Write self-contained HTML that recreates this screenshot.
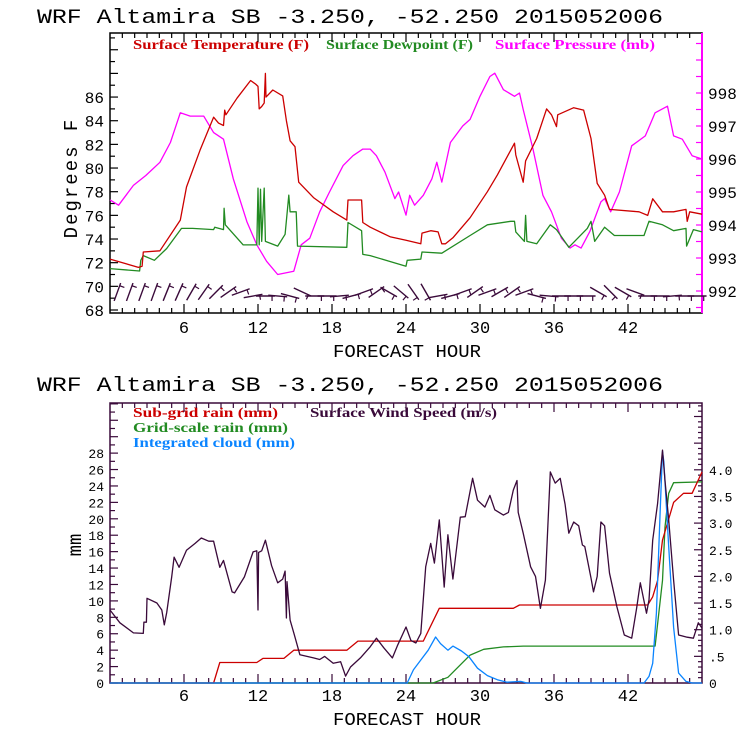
<!DOCTYPE html>
<html><head><meta charset="utf-8">
<style>
html,body{margin:0;padding:0;background:#fff;}
svg{display:block;}
.mono{font-family:"Liberation Mono","DejaVu Sans Mono",monospace;}
.serif{font-family:"Liberation Serif",serif;font-weight:bold;}
</style></head>
<body>
<svg id="chart" width="740" height="740" viewBox="0 0 740 740" xmlns="http://www.w3.org/2000/svg">
<rect width="740" height="740" fill="#fff"/>
<text class="mono" x="37" y="23" font-size="20" textLength="626" lengthAdjust="spacingAndGlyphs">WRF  Altamira  SB  -3.250, -52.250  2015052006</text>
<text class="mono" x="37" y="391" font-size="20" textLength="626" lengthAdjust="spacingAndGlyphs">WRF  Altamira  SB  -3.250, -52.250  2015052006</text>
<text class="serif" x="133" y="49" font-size="14" fill="#cc0000" textLength="176" lengthAdjust="spacingAndGlyphs">Surface Temperature (F)</text>
<text class="serif" x="326" y="49" font-size="14" fill="#228b22" textLength="147" lengthAdjust="spacingAndGlyphs">Surface Dewpoint (F)</text>
<text class="serif" x="495" y="49" font-size="14" fill="#ff00ff" textLength="160" lengthAdjust="spacingAndGlyphs">Surface Pressure (mb)</text>
<text class="serif" x="133" y="417" font-size="14" fill="#cc0000" textLength="145" lengthAdjust="spacingAndGlyphs">Sub-grid rain (mm)</text>
<text class="serif" x="310" y="417" font-size="14" fill="#3a0a3a" textLength="187" lengthAdjust="spacingAndGlyphs">Surface Wind Speed (m/s)</text>
<text class="serif" x="133" y="432" font-size="14" fill="#228b22" textLength="155" lengthAdjust="spacingAndGlyphs">Grid-scale rain (mm)</text>
<text class="serif" x="133" y="447" font-size="14" fill="#0a84ff" textLength="162" lengthAdjust="spacingAndGlyphs">Integrated cloud (mm)</text>
<text class="mono" transform="translate(77,178) rotate(-90)" font-size="19" text-anchor="middle" letter-spacing="2">Degrees F</text>
<text class="mono" x="407" y="357" font-size="18" text-anchor="middle" textLength="148" lengthAdjust="spacingAndGlyphs">FORECAST HOUR</text>
<text class="mono" transform="translate(81,545) rotate(-90)" font-size="19" text-anchor="middle">mm</text>
<text class="mono" x="407" y="725" font-size="18" text-anchor="middle" textLength="148" lengthAdjust="spacingAndGlyphs">FORECAST HOUR</text>
<g id="layer"></g>
</svg>
<script>
// ---- data ----
const xTicks = [6,12,18,24,30,36,42];
const tempTicks = [68,70,72,74,76,78,80,82,84,86];
const presTicks = [992,993,994,995,996,997,998];
const mmTicks = [0,2,4,6,8,10,12,14,16,18,20,22,24,26,28];
const windTicks = [0,0.5,1.0,1.5,2.0,2.5,3.0,3.5,4.0];
const windTickLabels = ["0",".5","1.0","1.5","2.0","2.5","3.0","3.5","4.0"];

const tempH = [0,2.3,2.6,2.7,4.05,5.7,6.2,7.3,8.4,8.8,9.2,9.3,9.4,10.3,11.4,11.8,12.0,12.1,12.3,12.5,12.6,12.65,13.2,14.0,14.3,14.6,15.0,15.3,16.5,18.1,19.2,19.3,20.4,20.5,21.1,22.7,24.0,25.2,25.3,26.0,26.6,26.9,27.2,27.8,29.2,30.6,31.4,32.8,32.9,33.5,33.7,34.6,35.4,35.8,36.2,36.3,37.6,38.4,39.0,39.5,40.1,40.5,42.9,43.6,44.0,44.8,45.7,46.7,46.8,47.0,48];
const tempV = [72.3,71.6,71.7,72.9,73.0,75.6,78.4,81.5,84.3,83.8,83.6,84.9,84.5,85.9,87.4,87.1,86.9,85.0,85.2,85.5,88.0,86.0,86.6,86.1,84.0,82.3,81.8,78.8,77.5,76.3,75.6,77.3,77.3,75.4,75.0,74.2,73.9,73.6,74.5,74.7,74.6,73.6,73.6,74.1,75.8,78.0,79.4,82.1,81.1,78.8,80.6,82.5,85.0,84.5,83.5,84.5,85.1,84.9,82.5,78.7,77.7,76.5,76.3,76.0,77.4,76.3,76.3,76.5,75.5,76.3,76.1];

const dewH = [0,2.4,2.5,2.7,3.6,4.6,5.8,6.7,8.4,8.5,9.2,9.25,9.35,10.8,11.9,12.0,12.1,12.2,12.3,12.5,12.6,13.6,14.2,14.5,14.6,15.1,15.2,19.2,19.3,20.4,20.5,21.1,22.7,24.0,24.1,25.2,25.3,26.9,29.2,30.6,32.5,32.8,32.9,33.6,33.7,33.8,34.6,35.7,36.2,37.2,38.7,39.0,39.3,40.1,40.9,43.3,43.7,44.8,45.7,46.7,46.75,47.3,48];
const dewV = [71.5,71.3,72.2,72.6,72.2,73.2,74.9,74.9,74.8,75.0,74.8,76.6,75.2,73.5,73.5,78.3,73.5,78.2,73.8,78.3,73.8,73.4,74.4,77.7,76.3,76.3,73.4,73.3,75.4,74.7,72.7,72.6,72.1,71.7,72.2,72.3,72.9,72.8,74.3,75.2,75.5,75.5,74.6,73.8,76.0,73.8,73.6,75.2,74.8,73.3,74.9,75.5,73.8,75.0,74.3,74.3,75.5,75.2,74.7,74.9,73.4,74.8,74.6];

const presH = [0,0.7,1.9,2.9,4.05,4.9,5.7,6.5,7.6,8.4,9.2,10.0,11.1,11.9,12.7,13.6,14.9,15.5,16.2,17.0,17.8,18.9,19.7,20.5,21.1,21.6,22.3,23.1,23.4,24.0,24.3,24.7,25.4,26.1,26.5,26.9,27.6,28.6,29.2,30.0,30.8,31.2,31.9,32.8,33.2,33.5,34.3,35.1,35.8,36.6,37.3,37.7,38.2,38.9,39.8,40.1,40.6,41.3,42.3,43.4,44.2,45.2,45.7,46.4,47.2,48];
const presV = [994.76,994.6,995.2,995.5,995.9,996.5,997.4,997.3,997.3,996.8,996.6,995.4,994.1,993.4,992.9,992.5,992.6,993.4,993.6,994.4,995.0,995.8,996.1,996.3,996.3,996.1,995.6,994.8,995.0,994.3,994.9,994.6,994.9,995.4,995.9,995.3,996.5,997.0,997.2,997.9,998.5,998.6,998.1,997.9,998.0,997.5,996.3,994.9,994.4,993.6,993.3,993.4,993.3,993.8,994.7,994.8,994.4,995.0,996.4,996.7,997.4,997.6,996.7,996.6,996.1,996.0];

const windH = [0,0.8,1.9,2.7,2.75,2.95,3.0,3.8,4.2,4.4,4.6,5.0,5.2,5.6,6.2,6.9,7.4,8.0,8.4,8.9,9.2,9.9,10.1,10.9,11.6,11.9,12.0,12.05,12.3,12.6,13.1,13.6,14.0,14.2,14.3,14.35,14.6,14.9,15.4,16.5,17.0,17.4,18.1,18.7,19.1,19.5,20.3,21.1,21.6,22.2,22.9,23.3,24.0,24.4,24.8,25.2,25.6,26.0,26.3,26.7,27.1,27.4,27.8,28.4,28.8,29.4,29.8,30.4,30.8,31.2,31.9,32.3,32.7,33.0,33.1,33.5,34.1,34.5,34.9,35.3,35.7,36.1,36.5,36.9,37.2,37.6,38.0,38.3,38.5,39.0,39.2,39.5,39.8,40.1,40.5,41.1,41.7,42.3,42.7,43.0,43.5,43.7,44.0,44.4,44.8,45.0,45.3,45.7,46.1,46.8,47.3,47.7,48];
const windV = [1.37,1.13,0.94,0.93,1.14,1.14,1.59,1.50,1.37,1.09,1.32,1.99,2.36,2.17,2.49,2.62,2.72,2.66,2.66,2.17,2.30,1.71,1.69,1.99,2.46,2.48,1.37,2.45,2.48,2.68,2.20,1.88,1.95,2.10,1.22,1.90,1.18,0.94,0.53,0.47,0.44,0.50,0.37,0.40,0.13,0.30,0.47,0.68,0.84,0.66,0.47,0.70,1.05,0.80,0.75,0.93,2.18,2.62,2.25,3.06,1.80,2.78,1.95,3.11,3.12,3.84,3.43,3.30,3.52,3.25,3.15,3.20,3.62,3.80,3.20,2.81,2.18,2.00,1.40,1.93,3.96,3.75,3.84,3.35,2.81,3.02,2.95,2.59,2.56,1.97,1.71,2.00,3.02,2.95,2.06,1.43,0.90,0.84,1.40,1.88,1.31,1.56,2.68,3.37,4.37,3.80,3.06,1.93,0.90,0.86,0.84,1.13,1.03];

const subH = [0,8.4,8.9,11.9,12.4,14.1,14.9,19.2,20.1,25.4,26.7,32.7,33.2,43.6,44.0,44.4,44.8,45.7,46.5,47.2,48];
const subV = [0,0,2.5,2.5,3.0,3.0,4.0,4.0,5.1,5.1,9.1,9.1,9.5,9.5,10.5,12.5,17.4,22.0,23.1,23.1,25.7];

const gridH = [0,26.2,27.4,29.2,30.3,31.9,33.5,44.2,44.8,45.0,45.3,45.7,48];
const gridV = [0,0,0.7,3.4,4.1,4.4,4.5,4.5,12.5,19.0,23.1,24.4,24.5];

const cloudH = [0,24.1,24.6,25.2,25.8,26.4,26.8,27.4,27.8,28.5,29.1,29.8,30.6,31.4,32.2,33.3,33.8,43.3,43.7,44.0,44.3,44.6,44.8,44.9,45.3,45.7,46.1,46.7,47.2,48];
const cloudV = [0,0,1.6,2.8,4.0,5.6,4.8,4.0,4.5,3.9,3.2,1.8,0.9,0.4,0.1,0.2,0,0,0.8,2.4,8.5,20.7,28.2,27.0,16.6,6.8,1.2,0.2,0,0];

const barbAngle = [70,70,70,70,68,66,60,55,45,35,20,10,0,-5,-15,-25,0,0,5,15,20,35,-30,-40,-55,-60,10,15,20,35,20,30,35,20,-15,-5,0,0,0,-30,-45,-30,-20,0,0,5,0,0];

// ---- scales ----
const X0=110, X1=702;
const xs = h => X0 + (h/48)*(X1-X0);
const T = {top:33, bot:313};
const yTemp = v => 310 - (v-68)*11.83;
const yPres = p => 93 + (998-p)*33;
const B = {top:403, bot:683};
const yMM = v => 683 - v*8.21;
const yWind = v => 683 - v*53.3;

const NS="http://www.w3.org/2000/svg";
const layer=document.getElementById('layer');
function mk(tag, attrs){const e=document.createElementNS(NS,tag);for(const k in attrs)e.setAttribute(k,attrs[k]);layer.appendChild(e);return e;}
function poly(H,V,yf,color,name,w){
  const pts=H.map((h,i)=>xs(h).toFixed(1)+','+yf(V[i]).toFixed(1)).join(' ');
  const e=mk('polyline',{points:pts,fill:'none',stroke:color,'stroke-width':w||1.3,'stroke-linejoin':'round'});
  
  
  return e;
}
function txt(x,y,s,anchor,size,name){
  const e=mk('text',{x:x,y:y,'text-anchor':anchor,'font-size':size,'class':'mono'});
  e.textContent=s;
  
  
  return e;
}

// ---- frames & ticks ----
function frame(top,bot,color,name){
  const r=mk('rect',{x:X0,y:top,width:X1-X0,height:bot-top,fill:'none',stroke:color,'stroke-width':1.5});
  
  
  for(let h=1;h<48;h++){
    const L = (h%6===0)?9:5;
    mk('line',{x1:xs(h),x2:xs(h),y1:bot,y2:bot-L,stroke:color,'stroke-width':1.2});
    mk('line',{x1:xs(h),x2:xs(h),y1:top,y2:top+L,stroke:color,'stroke-width':1.2});
  }
}
frame(T.top,T.bot,'#000','top-plot-frame');
frame(B.top,B.bot,'#3a0a3a','bottom-plot-frame');
xTicks.forEach(h=>{
  txt(xs(h),333,String(h),'middle',17,'top-x-tick-label');
  txt(xs(h),701,String(h),'middle',17,'bottom-x-tick-label');
});
for(let v=68; yTemp(v)>T.top; v++){
  const L=(v%2===0)?8:5;
  mk('line',{x1:X0,x2:X0+L,y1:yTemp(v),y2:yTemp(v),stroke:'#000','stroke-width':1.2});
}
tempTicks.forEach(v=>txt(104,yTemp(v)+6,String(v),'end',16,'temp-tick-label'));
const pa=mk('line',{x1:X1,x2:X1,y1:T.top,y2:T.bot,stroke:'#ff00ff','stroke-width':2});


for(let p=991.5; yPres(p)>T.top; p+=0.5){
  mk('line',{x1:X1,x2:X1-6,y1:yPres(p),y2:yPres(p),stroke:'#ff00ff','stroke-width':1.2});
}
presTicks.forEach(p=>txt(708,yPres(p)+6,String(p),'start',16,'pressure-tick-label'));
for(let v=0; yMM(v)>B.top; v++){
  const L=(v%2===0)?8:5;
  mk('line',{x1:X0,x2:X0+L,y1:yMM(v),y2:yMM(v),stroke:'#3a0a3a','stroke-width':1.2});
}
mmTicks.forEach(v=>txt(104,yMM(v)+5,String(v),'end',13,'mm-tick-label'));
for(let i=1; yWind(i*0.1)>B.top; i++){
  const L=(i%5===0)?8:4;
  mk('line',{x1:X1,x2:X1-L,y1:yWind(i*0.1),y2:yWind(i*0.1),stroke:'#3a0a3a','stroke-width':1.2});
}
windTicks.forEach((v,i)=>txt(709,yWind(v)+5,windTickLabels[i],'start',13,'wind-tick-label'));

// ---- series ----
poly(presH,presV,yPres,'#ff00ff','surface-pressure-line');
poly(dewH,dewV,yTemp,'#228b22','surface-dewpoint-line');
poly(tempH,tempV,yTemp,'#cc0000','surface-temperature-line');
poly(gridH,gridV,yMM,'#228b22','grid-scale-rain-line');
poly(subH,subV,yMM,'#cc0000','sub-grid-rain-line');
poly(cloudH,cloudV,yMM,'#0a84ff','integrated-cloud-line');
poly(windH,windV,yWind,'#3a0a3a','wind-speed-line');

// ---- wind barbs ----
barbAngle.forEach((a,i)=>{
  const cx=xs(i+0.6), cy=292 + (Math.abs(a)<20?4:0);
  const r=a*Math.PI/180, L=9.5;
  const dx=Math.cos(r)*L, dy=Math.sin(r)*L;
  const e=mk('line',{x1:cx-dx,y1:cy+dy,x2:cx+dx,y2:cy-dy,stroke:'#3a0a3a','stroke-width':1.4});
  
  
  const tx=cx+dx*0.7, ty=cy-dy*0.7;
  mk('line',{x1:tx,y1:ty,x2:tx+Math.sin(r)*5,y2:ty+Math.cos(r)*5,stroke:'#3a0a3a','stroke-width':1.2});
});
</script>
</body></html>
